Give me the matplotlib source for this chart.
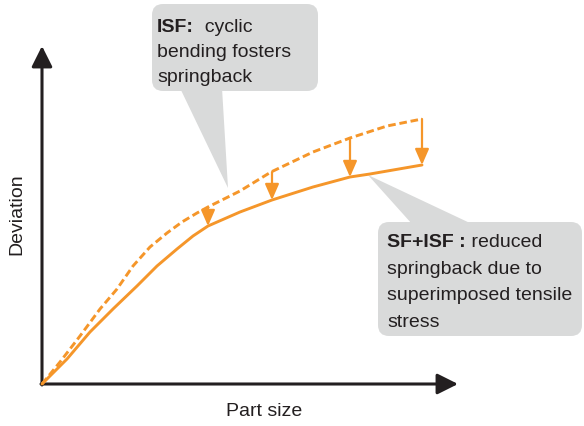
"""Sketch: springback deviation vs part size, ISF against SF+ISF."""

import matplotlib
matplotlib.use('Agg')
import matplotlib.pyplot as plt
from matplotlib.patches import FancyBboxPatch, Polygon

plt.rcParams['font.family'] = ['Liberation Sans', 'DejaVu Sans']

ORANGE = '#f5962a'
INK = '#231f20'
BOX = '#d9dada'

# Curves (part size, deviation) in arbitrary units.
isf_size = [0, 18, 38, 58, 75, 91, 108, 125, 140, 155, 166, 198,
            229, 271, 308, 345, 380]
isf_dev = [0, 22, 48, 75, 95, 118, 137, 151, 162, 171, 177, 193,
           212, 232, 246, 258, 265]
sfisf_size = [0, 25, 48, 71, 95, 115, 135, 151, 166, 198,
              230, 271, 308, 328, 380]
sfisf_dev = [0, 25, 52, 75, 98, 118, 135, 148, 158, 172,
             184, 197, 207, 210, 219]

# Springback reduction arrows: x, top (ISF), bottom (SF+ISF).
arrow_size = [166, 230, 308, 380]
arrow_top = [177, 212, 246, 265]
arrow_bottom = [158, 184, 207, 219]

fig = plt.figure(figsize=(5.84, 4.27), dpi=100)
ax = fig.add_axes([0, 0, 1, 1])
ax.set_xlim(-42, 542)
ax.set_ylim(-42, 385)
ax.set_axis_off()

# Axes with arrow heads.
arrow_kw = dict(arrowstyle='-|>,head_length=0.9,head_width=0.45',
                color=INK, lw=2.2, shrinkA=0, shrinkB=0,
                mutation_scale=14)
ax.annotate('', xy=(0, 338), xytext=(0, -1), arrowprops=arrow_kw)
ax.annotate('', xy=(416, 0), xytext=(-1, 0), arrowprops=arrow_kw)

ax.text(-25, 171, 'Deviation', rotation=90, ha='center', va='center',
        fontsize=14, color=INK)
ax.text(222, -27, 'Part size', ha='center', va='center',
        fontsize=14, color=INK)


# Callout boxes and tails.
def callout(x0, y0, w, h, tail):
    ax.add_patch(Polygon(tail, closed=True, fc=BOX, ec='none', zorder=1))
    ax.add_patch(FancyBboxPatch(
        (x0, y0), w, h, boxstyle='round,pad=0,rounding_size=11',
        fc=BOX, ec='none', zorder=1))


callout(110, 293, 166, 87, [(138, 296), (180, 296), (186, 196)])
callout(336, 48, 204, 114, [(326, 209), (370, 160), (430, 160)])

# Curves.
ax.plot(isf_size, isf_dev, color=ORANGE, lw=2.1,
        ls=(0, (2.6, 1.3)), solid_capstyle='round', zorder=3)
ax.plot(sfisf_size, sfisf_dev, color=ORANGE, lw=2.1,
        solid_capstyle='round', zorder=3)

for x, top, bottom in zip(arrow_size, arrow_top, arrow_bottom):
    ax.annotate('', xy=(x, bottom), xytext=(x, top), zorder=3,
                arrowprops=dict(
                    arrowstyle='-|>,head_length=0.8,head_width=0.35',
                    color=ORANGE, lw=1.6, shrinkA=0, shrinkB=0,
                    mutation_scale=12))


def label(x, y, bold, first, rest, step):
    t = ax.text(x, y, bold, fontsize=14, fontweight='bold', color=INK,
                va='baseline', zorder=4)
    ax.annotate(first, xy=(1, 0), xycoords=t, va='bottom', ha='left',
                fontsize=14, color=INK, zorder=4)
    for i, line in enumerate(rest, start=1):
        ax.text(x, y - i * step, line, fontsize=14, color=INK,
                va='baseline', zorder=4)


label(115, 353, 'ISF:', '  cyclic', ['bending fosters', 'springback'], 25)
label(345, 138, 'SF+ISF :', ' reduced',
      ['springback due to', 'superimposed tensile', 'stress'], 26.7)

fig.savefig('out.png', dpi=100)
